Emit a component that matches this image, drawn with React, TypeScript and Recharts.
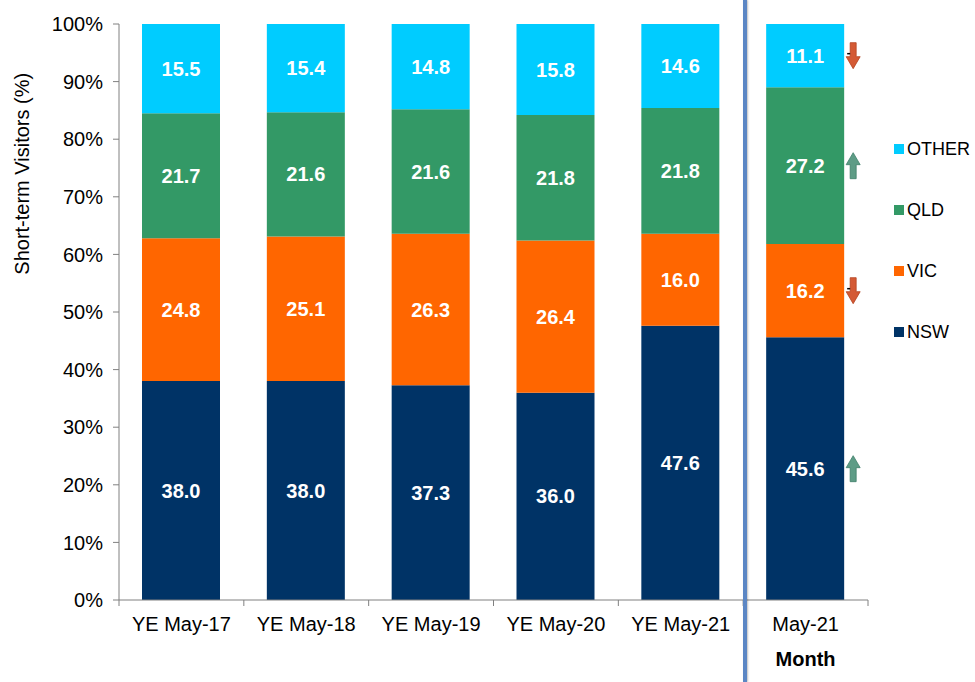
import React from 'react';
import { BarChart, Bar, XAxis, YAxis, LabelList } from 'recharts';

const categories = ['YE May-17', 'YE May-18', 'YE May-19', 'YE May-20', 'YE May-21', 'May-21'];
const nsw = [38.0, 38.0, 37.3, 36.0, 47.6, 45.6];
const vic = [24.8, 25.1, 26.3, 26.4, 16.0, 16.2];
const qld = [21.7, 21.6, 21.6, 21.8, 21.8, 27.2];
const other = [15.5, 15.4, 14.8, 15.8, 14.6, 11.1];
const yTicks = [0, 10, 20, 30, 40, 50, 60, 70, 80, 90, 100];

// arrow direction for the month column, per series
const monthTrend: Record<string, 'up' | 'down'> = { NSW: 'up', VIC: 'down', QLD: 'up', OTHER: 'down' };

const series = [
  { key: 'NSW', color: '#003366', values: nsw },
  { key: 'VIC', color: '#FF6600', values: vic },
  { key: 'QLD', color: '#339966', values: qld },
  { key: 'OTHER', color: '#00CCFF', values: other },
];

const data = categories.map((name, i) => ({
  name,
  NSW: nsw[i],
  VIC: vic[i],
  QLD: qld[i],
  OTHER: other[i],
}));

const W = 975;
const H = 682;
const margin = { top: 24, right: 107, bottom: 0, left: 0 };
const yAxisWidth = 119;
const band = (W - margin.right - yAxisWidth) / categories.length;
const font = '"Liberation Sans", Arial, sans-serif';

const XTick = (props: any) => {
  const { x, y, payload, index } = props;
  const left = x - band / 2;
  return (
    <g>
      <line x1={left} y1={y - 8} x2={left} y2={y - 2} stroke="#808080" />
      {index === categories.length - 1 && (
        <line x1={left + band} y1={y - 8} x2={left + band} y2={y - 2} stroke="#808080" />
      )}
      <text x={x} y={y + 23} textAnchor="middle" fontSize={20} fill="#000" fontFamily={font}>
        {payload.value}
      </text>
      {index === categories.length - 1 && (
        <text x={x} y={y + 58} textAnchor="middle" fontSize={20} fontWeight="bold" fill="#000" fontFamily={font}>
          Month
        </text>
      )}
    </g>
  );
};

const YLabel = (props: any) => {
  const { viewBox } = props;
  const cx = 22;
  const cy = viewBox.y + viewBox.height * 0.26;
  return (
    <text
      x={cx}
      y={cy}
      transform={`rotate(-90, ${cx}, ${cy})`}
      textAnchor="middle"
      dominantBaseline="central"
      fontSize={20}
      fill="#000"
      fontFamily={font}
    >
      Short-term Visitors (%)
    </text>
  );
};

const makeArrow = (key: string) => (props: any) => {
  const { x, y, width, height, index } = props;
  if (index !== categories.length - 1) return null;
  const cx = x + width + 9;
  const cy = y + height / 2;
  const up = monthTrend[key] === 'up';
  const col = up ? '#5E9C86' : '#D45A35';
  const s = up ? -1 : 1;
  const pts = [
    [cx - 3, cy - 13 * s],
    [cx + 3, cy - 13 * s],
    [cx + 3, cy + 1 * s],
    [cx + 7, cy + 1 * s],
    [cx, cy + 13 * s],
    [cx - 7, cy + 1 * s],
    [cx - 3, cy + 1 * s],
  ]
    .map((p) => p.join(','))
    .join(' ');
  return (
    <g>
      <polygon points={pts} fill={col} stroke={up ? '#3F7F69' : '#B4421F'} strokeWidth={0.8} />
      {!up && <line x1={cx - 6} y1={cy - 2} x2={cx - 3} y2={cy - 2} stroke="#000" strokeWidth={1.5} />}
    </g>
  );
};

const legendTops = [139, 200, 261, 322];

const ChartLegend = () => {
  const order = [...series].reverse();
  return (
    <>
      {order.map((s, i) => (
        <div
          key={s.key}
          style={{
            position: 'absolute',
            left: 894,
            top: legendTops[i],
            height: 20,
            display: 'flex',
            alignItems: 'center',
            fontFamily: font,
            fontSize: 18,
            color: '#000',
          }}
        >
          <span style={{ width: 10, height: 10, background: s.color, display: 'inline-block', marginRight: 3 }} />
          <span>{s.key}</span>
        </div>
      ))}
    </>
  );
};

export default function App() {
  return (
    <div style={{ position: 'absolute', left: 0, top: 0, width: W, height: H, background: '#fff' }}>
      <BarChart width={W} height={H} data={data} margin={margin} barSize={78}>
        <XAxis
          dataKey="name"
          axisLine={{ stroke: '#808080' }}
          tickLine={false}
          tick={<XTick />}
          height={82}
          interval={0}
        />
        <YAxis
          type="number"
          domain={[0, 100]}
          ticks={yTicks}
          allowDataOverflow
          width={yAxisWidth}
          axisLine={{ stroke: '#808080' }}
          tickLine={{ stroke: '#808080' }}
          tickSize={6}
          tickMargin={10}
          tickFormatter={(v: number) => `${v}%`}
          tick={{ fontSize: 20, fill: '#000', fontFamily: font }}
          label={<YLabel />}
        />
        {series.map((s) => (
          <Bar key={s.key} dataKey={s.key} stackId="a" fill={s.color} isAnimationActive={false}>
            <LabelList
              dataKey={s.key}
              position="center"
              formatter={(v: number) => v.toFixed(1)}
              style={{ fill: '#fff', fontWeight: 'bold', fontSize: 20, fontFamily: font }}
            />
            <LabelList dataKey={s.key} content={makeArrow(s.key)} />
          </Bar>
        ))}
      </BarChart>
      <ChartLegend />
      <div
        style={{
          position: 'absolute',
          left: 743,
          top: 0,
          width: 4,
          height: H,
          background: '#5B86C4',
          boxShadow: '1px 0 2px rgba(0,0,0,0.25)',
        }}
      />
    </div>
  );
}
